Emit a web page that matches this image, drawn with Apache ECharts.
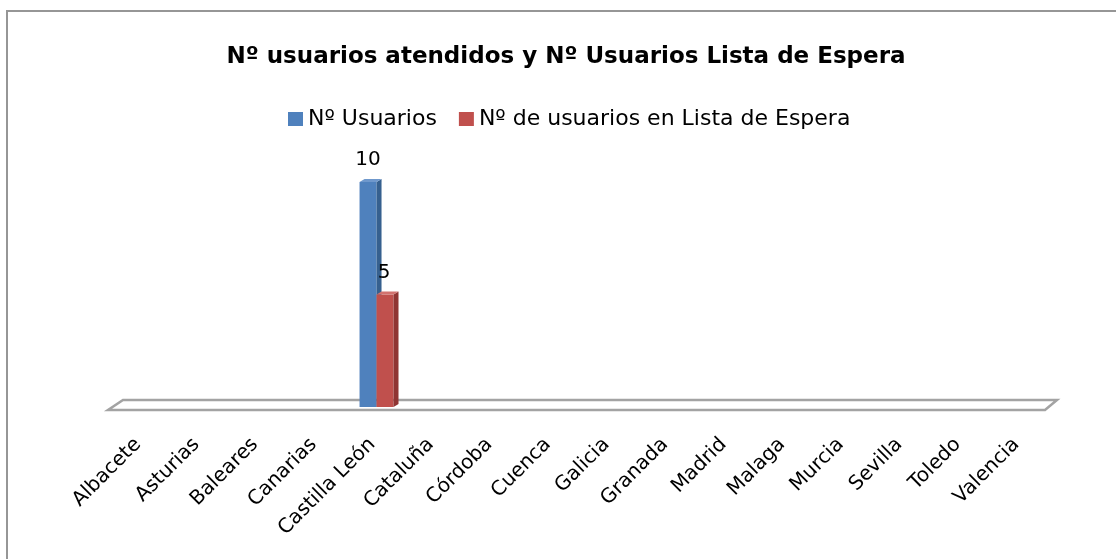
<!DOCTYPE html>
<html>
<head>
<meta charset="utf-8">
<script src="https://cdn.jsdelivr.net/npm/echarts@6/dist/echarts.min.js"></script>
<style>
html, body { margin: 0; padding: 0; background: #fff; overflow: hidden; }
#marco { position: absolute; left: 6px; top: 10px; width: 1200px; height: 700px; border: 2px solid #969696; }
#grafico { position: absolute; left: 0; top: 0; width: 1132px; height: 559px; }
</style>
</head>
<body>
<div id="marco"></div>
<div id="grafico"></div>
<script>
// datos
var provincias = ['Albacete', 'Asturias', 'Baleares', 'Canarias', 'Castilla León', 'Cataluña', 'Córdoba',
    'Cuenca', 'Galicia', 'Granada', 'Madrid', 'Malaga', 'Murcia', 'Sevilla', 'Toledo', 'Valencia'];
var usuarios    = [0, 0, 0, 0, 10, 0, 0, 0, 0, 0, 0, 0, 0, 0, 0, 0];
var listaEspera = [0, 0, 0, 0, 5, 0, 0, 0, 0, 0, 0, 0, 0, 0, 0, 0];
var nombres = ['Nº Usuarios', 'Nº de usuarios en Lista de Espera'];
var colores = ['#4F81BD', '#C0504D'];
var lados   = ['#36608f', '#8f3533'];
var techos  = ['#6f98cc', '#d2726f'];

var fuente = '"DejaVu Sans", sans-serif';

/**
 * barra con falso 3D (cara frontal + lateral + techo)
 */
function barra(idx) {
    return function (params, api) {
        var cat = api.value(0), val = api.value(1);
        if (!val) return { type: 'group', children: [] };
        var base = api.coord([cat, 0]);
        var cima = api.coord([cat, val]);
        var banda = api.size([1, 0])[0];
        var w = banda * 0.29;
        var x0 = base[0] - 2 - w + idx * w;
        var dx = 5, dy = -3;
        return {
            type: 'group',
            children: [
                { type: 'rect', shape: { x: x0, y: cima[1], width: w, height: base[1] - cima[1] },
                  style: { fill: colores[idx] } },
                { type: 'polygon', shape: { points: [[x0 + w, cima[1]], [x0 + w + dx, cima[1] + dy],
                    [x0 + w + dx, base[1] + dy], [x0 + w, base[1]]] },
                  style: { fill: lados[idx] } },
                { type: 'polygon', shape: { points: [[x0, cima[1]], [x0 + dx, cima[1] + dy],
                    [x0 + w + dx, cima[1] + dy], [x0 + w, cima[1]]] },
                  style: { fill: techos[idx] } },
                { type: 'text', style: { text: String(val), x: x0 + w / 2 - 1 * idx, y: cima[1] - 12,
                    align: 'center', verticalAlign: 'bottom', font: '20px ' + fuente, fill: '#000' } }
            ]
        };
    };
}

/**
 * suelo del grafico
 */
function suelo(params, api) {
    var n = provincias.length;
    var a = api.coord([0, 0]), b = api.coord([n - 1, 0]);
    var mitad = api.size([1, 0])[0] / 2;
    var izq = a[0] - mitad, der = b[0] + mitad, y = a[1];
    return {
        type: 'polygon',
        shape: { points: [[izq - 7, y + 3], [der - 7, y + 3], [der + 5, y - 7], [izq + 8, y - 7]] },
        style: { fill: '#fff', stroke: '#a3a3a3', lineWidth: 2.5 }
    };
}

var chart = echarts.init(document.getElementById('grafico'));
chart.setOption({
    animation: false,
    title: {
        text: 'Nº usuarios atendidos y Nº Usuarios Lista de Espera',
        left: 'center', top: 41,
        textStyle: { fontFamily: fuente, fontSize: 23, fontWeight: 'bold', color: '#000' }
    },
    legend: {
        data: nombres, left: 283, top: 103,
        icon: 'rect', itemWidth: 15, itemHeight: 14, itemGap: 22,
        textStyle: { fontFamily: fuente, fontSize: 22, color: '#000' }
    },
    grid: { left: 115, right: 80, top: 137, bottom: 152 },
    xAxis: {
        type: 'category', data: provincias,
        axisLine: { show: false }, axisTick: { show: false },
        axisLabel: { rotate: 45, margin: 28, padding: [0, 9, 0, 0], interval: 0,
                     fontFamily: fuente, fontSize: 20, color: '#000' }
    },
    yAxis: { type: 'value', min: 0, max: 12, show: false },
    series: [
        { type: 'custom', name: 'suelo', silent: true, renderItem: suelo, data: [[0, 0]], z: 1 },
        { type: 'custom', name: nombres[0], renderItem: barra(0), itemStyle: { color: colores[0] },
          data: usuarios.map(function (v, i) { return [i, v]; }), z: 2 },
        { type: 'custom', name: nombres[1], renderItem: barra(1), itemStyle: { color: colores[1] },
          data: listaEspera.map(function (v, i) { return [i, v]; }), z: 3 }
    ]
});
</script>
</body>
</html>
